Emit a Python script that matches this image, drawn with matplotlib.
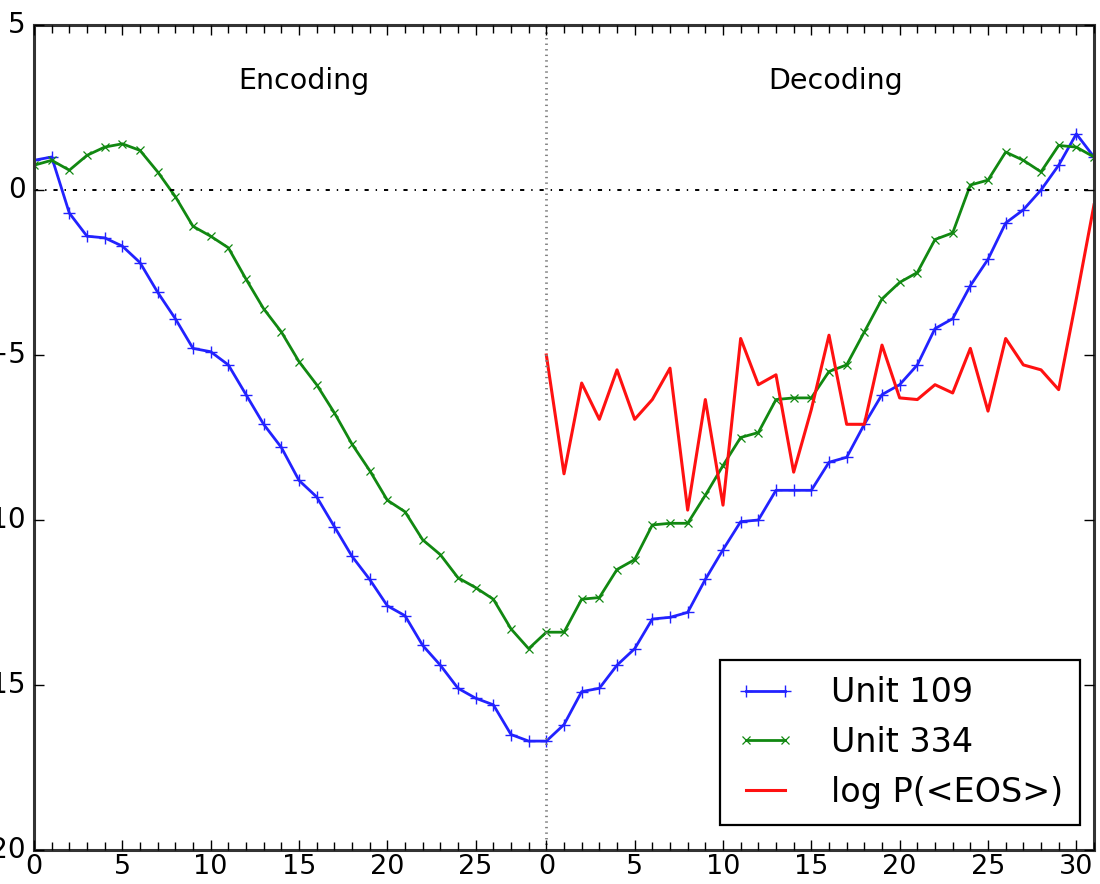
import numpy as np
import matplotlib
matplotlib.use("Agg")
import matplotlib.pyplot as plt

# time steps: 29 encoding steps (0..28) followed by 32 decoding steps (0..31)
n_enc = 29
n_dec = 32
steps = np.arange(n_enc + n_dec)

unit_109 = [0.9, 1.0, -0.7, -1.4, -1.45, -1.7, -2.2, -3.1, -3.9, -4.8,
            -4.9, -5.3, -6.2, -7.1, -7.8, -8.8, -9.3, -10.2, -11.1, -11.8,
            -12.6, -12.9, -13.8, -14.4, -15.1, -15.4, -15.6, -16.5, -16.7,
            -16.7, -16.2, -15.2, -15.1, -14.4, -13.9, -13.0, -12.95, -12.8, -11.8,
            -10.9, -10.05, -10.0, -9.1, -9.1, -9.1, -8.25, -8.1, -7.1, -6.2,
            -5.9, -5.3, -4.2, -3.9, -2.9, -2.1, -1.0, -0.6, 0.0, 0.75,
            1.7, 1.0]

unit_334 = [0.75, 0.9, 0.6, 1.05, 1.3, 1.4, 1.2, 0.55, -0.2, -1.1,
            -1.4, -1.75, -2.7, -3.6, -4.3, -5.2, -5.9, -6.75, -7.7, -8.5,
            -9.4, -9.75, -10.6, -11.05, -11.75, -12.05, -12.4, -13.3, -13.9,
            -13.4, -13.4, -12.4, -12.35, -11.5, -11.2, -10.15, -10.1, -10.1, -9.25,
            -8.35, -7.5, -7.35, -6.35, -6.3, -6.3, -5.5, -5.3, -4.3, -3.3,
            -2.8, -2.5, -1.5, -1.3, 0.15, 0.3, 1.15, 0.9, 0.55, 1.35,
            1.3, 1.0]

log_p_eos = [-5.0, -8.6, -5.85, -6.95, -5.45, -6.95, -6.35, -5.4, -9.7, -6.35,
             -9.55, -4.5, -5.9, -5.6, -8.55, -6.65, -4.4, -7.1, -7.1, -4.7,
             -6.3, -6.35, -5.9, -6.15, -4.8, -6.7, -4.5, -5.3, -5.45, -6.05,
             -3.3, -0.45]

enc_labels = [0, 5, 10, 15, 20, 25]
dec_labels = [0, 5, 10, 15, 20, 25, 30]

plt.style.use('classic')
fig = plt.figure(figsize=(11, 8.84), dpi=100)
ax = fig.add_axes([34 / 1100, 1 - 850 / 884, (1094 - 34) / 1100, (850 - 25) / 884])

ax.plot(steps, unit_109, '-', color='#2222ff', marker='+', markersize=8,
        markeredgewidth=1.0, linewidth=2.0, label='Unit 109')
ax.plot(steps, unit_334, '-', color='#118811', marker='x', markersize=6,
        markeredgewidth=0.9, linewidth=2.0, label='Unit 334')
ax.plot(steps[n_enc:], log_p_eos, '-', color='#ff1111', linewidth=2.2,
        label='log P(<EOS>)')

ax.axhline(0, color='k', linestyle='-.', linewidth=1.4)
ax.axvline(n_enc, color='gray', linestyle=':', linewidth=2)

ax.text(15.3, 3.3, 'Encoding', ha='center', va='center', fontsize=20.5)
ax.text(45.4, 3.3, 'Decoding', ha='center', va='center', fontsize=20.5)

ax.set_xlim(0, n_enc + n_dec - 1)
ax.set_ylim(-20, 5)

tick_pos = [v for v in enc_labels] + [n_enc + v for v in dec_labels]
tick_txt = [str(v) for v in enc_labels] + [str(v) for v in dec_labels]
ax.set_xticks(tick_pos)
ax.set_xticklabels(tick_txt)
ax.set_xticks(steps, minor=True)
ax.set_yticks([-20, -15, -10, -5, 0, 5])

ax.tick_params(axis='y', which='major', labelsize=20, length=7, width=1, pad=6)
ax.tick_params(axis='x', which='major', labelsize=19.5, length=7, width=1, pad=3)
ax.tick_params(axis='x', which='minor', length=6, width=1)
for sp in ax.spines.values():
    sp.set_linewidth(2.2)
    sp.set_color('#333333')

leg = ax.legend(loc='lower right', bbox_to_anchor=(0.987, 0.03), borderaxespad=0,
                fontsize=24, numpoints=2, handlelength=1.75, labelspacing=0.5,
                handletextpad=1.1, borderpad=0.5)
leg.get_frame().set_linewidth(1.6)

fig.savefig('out.png', dpi=100)
